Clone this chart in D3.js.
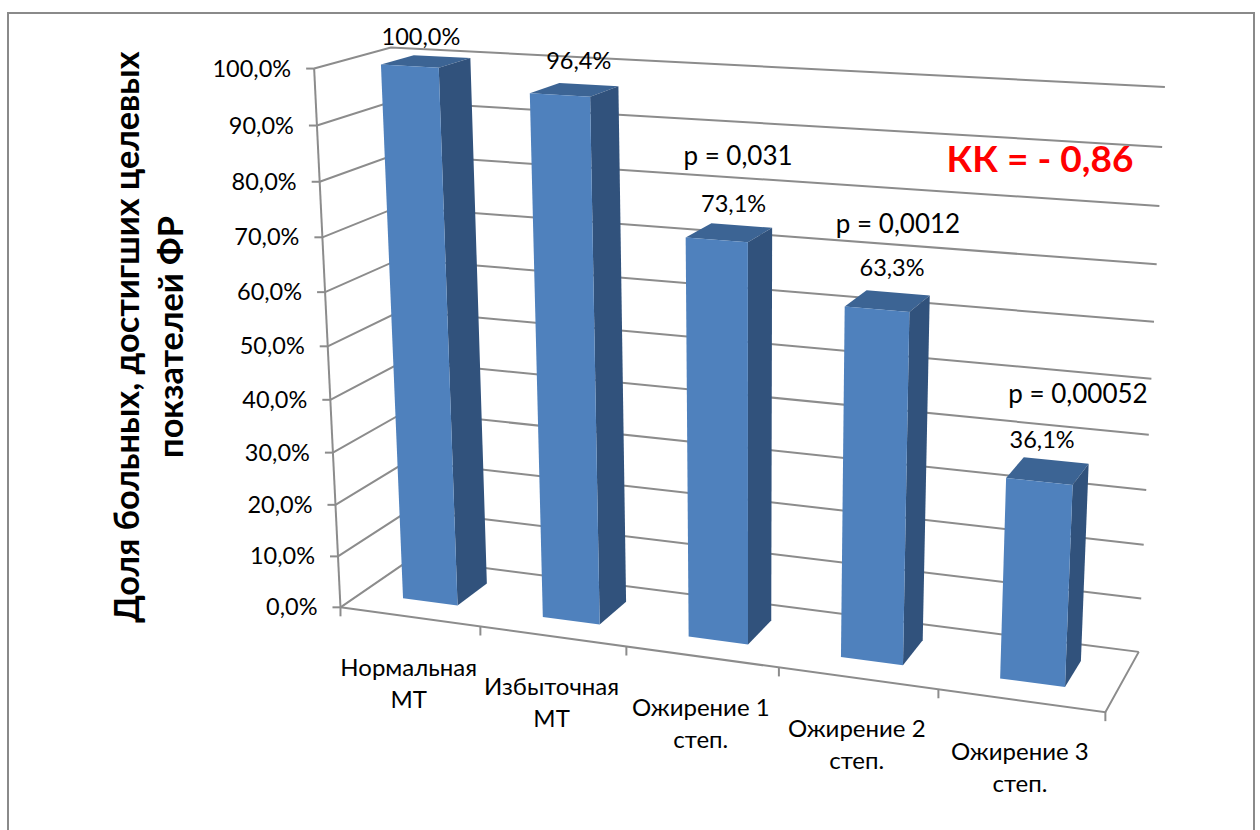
<!DOCTYPE html>
<html>
<head>
<meta charset="utf-8">
<script src="https://cdn.jsdelivr.net/npm/d3@7/dist/d3.min.js"></script>
<style>
  html, body { margin: 0; padding: 0; background: #fff; }
  text { font-family: Lato, "Open Sans", sans-serif; fill: #000; }
</style>
</head>
<body>
<svg id="chart" width="1260" height="830"></svg>
<script>
// Chart content
const categories = [["Нормальная", "МТ"], ["Избыточная", "МТ"], ["Ожирение 1", "степ."], ["Ожирение 2", "степ."], ["Ожирение 3", "степ."]];
const shares = [100.0, 96.4, 73.1, 63.3, 36.1];
const valueTicks = [0, 10, 20, 30, 40, 50, 60, 70, 80, 90, 100];
const axisTitle = ["Доля больных, достигших целевых", "покзателей ФР"];
const pValues = ["p = 0,031", "p = 0,0012", "p = 0,00052"];
const correlation = "КК = - 0,86";

// Picture-plane positions of the plot box corners: [u, v, w, screenX, screenY]
const boxCorners = [
  [0, 0, 0, 340, 608], [1, 0, 0, 1105, 712], [0, 1, 0, 315, 68],
  [0, 0, 1, 412, 558], [1, 0, 1, 1139, 652], [0, 1, 1, 390, 48], [1, 1, 1, 1165, 87]
];

// Least-squares fit of a perspective camera to the box corners
function fitCamera(points) {
  const rows = [], rhs = [];
  points.forEach(([u, v, w, x, y]) => {
    const sx = x / 1000, sy = y / 1000;
    rows.push([u, v, w, 1, 0, 0, 0, 0, -sx * u, -sx * v, -sx * w]); rhs.push(sx);
    rows.push([0, 0, 0, 0, u, v, w, 1, -sy * u, -sy * v, -sy * w]); rhs.push(sy);
  });
  const n = 11;
  const m = d3.range(n).map(i => d3.range(n + 1).map(j =>
    d3.sum(rows, (r, k) => r[i] * (j < n ? r[j] : rhs[k]))));
  for (let c = 0; c < n; c++) {
    let best = c;
    for (let r = c + 1; r < n; r++) if (Math.abs(m[r][c]) > Math.abs(m[best][c])) best = r;
    [m[c], m[best]] = [m[best], m[c]];
    for (let r = 0; r < n; r++) {
      if (r === c) continue;
      const f = m[r][c] / m[c][c];
      for (let j = c; j <= n; j++) m[r][j] -= f * m[c][j];
    }
  }
  const p = d3.range(n).map(i => m[i][n] / m[i][i]);
  return (u, v, w) => {
    const d = p[8] * u + p[9] * v + p[10] * w + 1;
    return [
      1000 * (p[0] * u + p[1] * v + p[2] * w + p[3]) / d,
      1000 * (p[4] * u + p[5] * v + p[6] * w + p[7]) / d
    ];
  };
}
const project = fitCamera(boxCorners);

// Scales in box coordinates
const xBand = d3.scaleBand().domain(d3.range(categories.length)).range([0, 1]).paddingInner(0.605).paddingOuter(0.3025);
const yValue = d3.scaleLinear().domain([0, 100]).range([0, 1]);
const depth = { front: 0.29, back: 0.73 };
const fmtPct = d3.formatLocale({ decimal: ",", thousands: " ", grouping: [3], currency: ["", ""] }).format(".1f");
const pct = v => fmtPct(v) + "%";

const svg = d3.select("#chart");
const line = d3.line();
const poly = pts => line(pts) + "Z";
const GREY = "#8c8c8c";

// Chart area border, open at the bottom edge
svg.append("path")
  .attr("d", "M8,831V13H1254V831")
  .attr("fill", "none").attr("stroke", "#8a8a8a").attr("stroke-width", 2);

// Gridlines on the side wall and back wall
const walls = svg.append("g").attr("fill", "none").attr("stroke", GREY).attr("stroke-width", 2);
walls.selectAll("path.grid").data(valueTicks).join("path")
  .attr("class", "grid")
  .attr("d", t => line([project(0, yValue(t), 0), project(0, yValue(t), 1), project(1, yValue(t), 1)]));

// Floor outline and both axes
walls.append("path").attr("d", line([project(0, 0, 0), project(1, 0, 0), project(1, 0, 1)]));
walls.append("path").attr("d", line([project(0, 0, 0), project(0, 1, 0)]));

// Value axis ticks and labels
walls.selectAll("path.ytick").data(valueTicks).join("path")
  .attr("class", "ytick")
  .attr("d", t => { const [x, y] = project(0, yValue(t), 0); return line([[x - 8, y], [x, y]]); });
svg.append("g").selectAll("text").data(valueTicks).join("text")
  .attr("x", t => project(0, yValue(t), 0)[0] - 23)
  .attr("y", t => project(0, yValue(t), 0)[1] + 8)
  .attr("text-anchor", "end").attr("font-size", 23.5)
  .text(pct);

// Category axis ticks
const catEdges = d3.range(categories.length + 1).map(i => i / categories.length);
walls.selectAll("path.xtick").data(catEdges).join("path")
  .attr("class", "xtick")
  .attr("d", u => { const [x, y] = project(u, 0, 0); return line([[x, y], [x, y + 9]]); });

// Category labels, two lines each
const catText = svg.append("g").selectAll("text").data(categories).join("text")
  .attr("text-anchor", "middle").attr("font-size", 24);
catText.each(function (lines, i) {
  const [x, y] = project(xBand(i) + xBand.bandwidth() / 2, 0, 0);
  d3.select(this).selectAll("tspan").data(lines).join("tspan")
    .attr("x", x - 1).attr("y", (d, k) => y + 59 + k * 32).text(d => d);
});

// Bars, three visible faces of each box
const bars = svg.append("g").selectAll("g").data(shares).join("g");
bars.each(function (value, i) {
  const u0 = xBand(i), u1 = u0 + xBand.bandwidth();
  const v = yValue(value), { front: f, back: b } = depth;
  const g = d3.select(this);
  g.append("path").attr("fill", "#3c6494")
    .attr("d", poly([project(u0, v, f), project(u1, v, f), project(u1, v, b), project(u0, v, b)]));
  g.append("path").attr("fill", "#31527c")
    .attr("d", poly([project(u1, 0, f), project(u1, v, f), project(u1, v, b), project(u1, 0, b)]));
  g.append("path").attr("fill", "#4f81bd")
    .attr("d", poly([project(u0, 0, f), project(u1, 0, f), project(u1, v, f), project(u0, v, f)]));
});

// Value labels above the bars, nudged clear of the bar tops
const labelNudge = [[-21, -12], [-10, -16], [-8, -14], [-6, -17], [-14, -12]];
svg.append("g").selectAll("text").data(shares).join("text")
  .attr("text-anchor", "middle").attr("font-size", 23.5)
  .attr("x", (d, i) => project(xBand(i) + xBand.bandwidth() / 2, yValue(d), depth.back)[0] + labelNudge[i][0])
  .attr("y", (d, i) => project(xBand(i) + xBand.bandwidth() / 2, yValue(d), depth.back)[1] + labelNudge[i][1])
  .text(pct);

// Significance annotations
const pAnchors = [[738, 165], [898, 233], [1078, 403]];
svg.append("g").selectAll("text").data(pValues).join("text")
  .attr("text-anchor", "middle").attr("font-size", 26)
  .attr("x", (d, i) => pAnchors[i][0]).attr("y", (d, i) => pAnchors[i][1])
  .text(d => d);

svg.append("text")
  .attr("x", 1040).attr("y", 172).attr("text-anchor", "middle")
  .attr("font-size", 37).attr("font-weight", 700).style("fill", "#ff0000")
  .text(correlation);

// Rotated value-axis title
svg.append("g").attr("transform", "translate(139,337) rotate(-90)")
  .selectAll("text").data(axisTitle).join("text")
  .attr("text-anchor", "middle").attr("font-size", 34.3).attr("font-weight", 700)
  .attr("y", (d, i) => i * 44)
  .text(d => d);
</script>
</body>
</html>
